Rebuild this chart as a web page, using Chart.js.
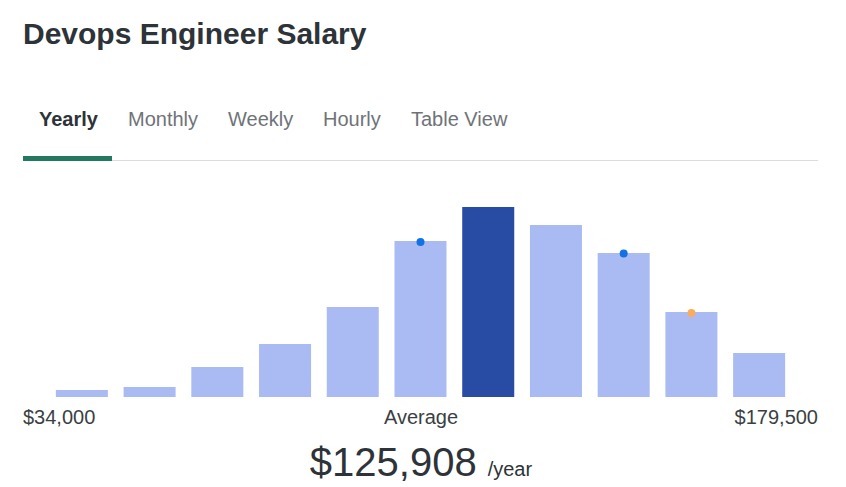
<!DOCTYPE html>
<html lang="en">

<head>
    <meta charset="UTF-8">
    <title>Devops Engineer Salary</title>
    <style>
        body { margin: 0; background: #fff; font-family: "Liberation Sans", Arial, sans-serif; }
        #wrap { position: relative; width: 846px; height: 487px; overflow: hidden; }
        #title { position: absolute; left: 23px; top: 17px; font-size: 30px; line-height: 34px; font-weight: bold; color: #2d3338; }
        .tab { position: absolute; top: 107px; font-size: 20px; line-height: 24px; color: #6f7378; }
        .tab.on { font-weight: bold; color: #2d3338; }
        #rule { position: absolute; left: 23px; top: 160px; width: 795px; height: 1px; background: #dcdcdc; }
        #active { position: absolute; left: 23px; top: 156px; width: 89px; height: 5px; background: #24785f; }
        #plot { position: absolute; left: 23px; top: 180px; width: 795px; height: 217px; }
        .lbl { position: absolute; top: 405px; font-size: 20px; line-height: 24px; color: #3a3f44; }
        #avg { position: absolute; top: 438px; left: 0; width: 842px; text-align: center; color: #2d3338; white-space: nowrap; }
        #avg b { font-weight: normal; font-size: 40px; line-height: 48px; }
        #avg small { font-size: 20px; margin-left: 11px; }
    </style>
</head>

<body>
    <div id="wrap">
        <div id="title">Devops Engineer Salary</div>
        <div class="tab on" style="left:39px">Yearly</div>
        <div class="tab" style="left:128px">Monthly</div>
        <div class="tab" style="left:228px">Weekly</div>
        <div class="tab" style="left:323px">Hourly</div>
        <div class="tab" style="left:411px">Table View</div>
        <div id="rule"></div>
        <div id="active"></div>
        <div id="plot"><canvas id="salaryChart"></canvas></div>
        <div class="lbl" style="left:23px">$34,000</div>
        <div class="lbl" style="left:0;width:842px;text-align:center">Average</div>
        <div class="lbl" style="right:28px">$179,500</div>
        <div id="avg"><b>$125,908</b><small>/year</small></div>
    </div>
    <script src="https://cdn.jsdelivr.net/npm/chart.js"></script>
    <script>
        // salary buckets, $34,000 .. $179,500
        var buckets = ['b1', 'b2', 'b3', 'b4', 'b5', 'b6', 'b7', 'b8', 'b9', 'b10', 'b11'];
        var counts = [7, 10, 30, 53, 90, 156, 190, 172, 144, 85, 44];
        var averageIndex = 6;
        // markers sitting on top of some bars
        var blueMarks = [null, null, null, null, null, 155, null, null, 143.5, null, null];
        var orangeMarks = [null, null, null, null, null, null, null, null, null, 84, null];

        var barColors = counts.map(function (v, i) {
            return i === averageIndex ? '#284ba3' : '#aabbf3';
        });

        var ctx = document.getElementById('salaryChart');
        new Chart(ctx, {
            data: {
                labels: buckets,
                datasets: [{
                    type: 'line',
                    data: blueMarks,
                    showLine: false,
                    pointRadius: 4,
                    pointBackgroundColor: '#1271e3',
                    pointBorderWidth: 0,
                    order: 0
                }, {
                    type: 'line',
                    data: orangeMarks,
                    showLine: false,
                    pointRadius: 4,
                    pointBackgroundColor: '#fbac5a',
                    pointBorderWidth: 0,
                    order: 0
                }, {
                    type: 'bar',
                    data: counts,
                    backgroundColor: barColors,
                    categoryPercentage: 1,
                    barPercentage: 0.768,
                    order: 1
                }]
            },
            options: {
                responsive: true,
                maintainAspectRatio: false,
                animation: false,
                layout: { autoPadding: false, padding: { left: 25, right: 25, top: 0, bottom: 0 } },
                plugins: { legend: { display: false }, tooltip: { enabled: false } },
                scales: {
                    x: { display: false, offset: true },
                    y: { display: false, min: 0, max: 217 }
                }
            }
        });
    </script>
</body>

</html>
